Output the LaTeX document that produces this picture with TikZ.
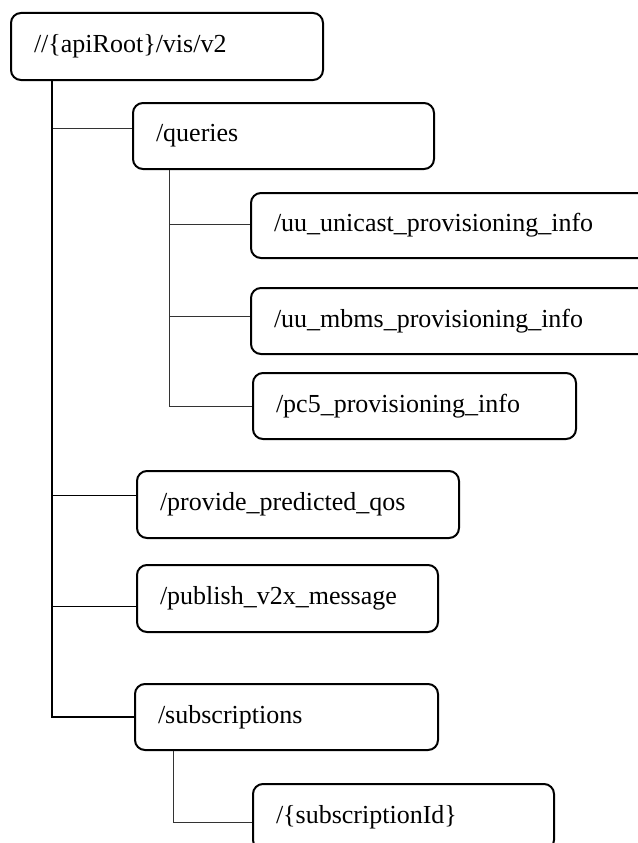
\documentclass[tikz,border=0pt]{standalone}
\usepackage{fontspec}
\setmainfont{Liberation Serif}
\usepackage{tikz}
\tikzstyle{box} = [rectangle, rounded corners=10pt, draw=black, line width=2pt, anchor=north west, inner xsep=23pt, inner ysep=0pt, align=left, minimum height=66pt, font=\fontsize{26}{30}\selectfont]
\tikzstyle{line} = [draw=black!80, line width=0.9pt]
\tikzstyle{trunk} = [draw=black, line width=1.3pt]

\begin{document}
\begin{tikzpicture}[x=1pt, y=-1pt]
			\useasboundingbox (0,0) rectangle (637,843);
			\node (root) [box, text width=266pt, minimum height=67pt] at (10,12) {//\{apiRoot\}/vis/v2};
			\node (queries) [box, text width=255pt] at (132,102) {/queries};
			\node (unicast) [box, text width=364pt, minimum height=65pt] at (250,192) {/uu\_unicast\_provisioning\_info};
			\node (mbms) [box, text width=364pt] at (250,287) {/uu\_mbms\_provisioning\_info};
			\node (pcfive) [box, text width=277pt] at (252,372) {/pc5\_provisioning\_info};
			\node (qos) [box, text width=276pt, minimum height=67pt] at (136,470) {/provide\_predicted\_qos};
			\node (publish) [box, text width=255pt, minimum height=67pt] at (136,564) {/publish\_v2x\_message};
			\node (subs) [box, text width=257pt] at (134,683) {/subscriptions};
			\node (subsid) [box, text width=255pt] at (252,783) {/\{subscriptionId\}};
			\coordinate (t) at ([xshift=42pt]root.south west);
			\coordinate (q) at ([xshift=37pt]queries.south west);
			\coordinate (s) at ([xshift=39pt]subs.south west);
			\draw [trunk] (t) |- (subs.west);
			\draw [line] ([yshift=8pt]queries.west) -| (t);
			\draw [trunk] ([yshift=9pt]qos.west) -| (t);
			\draw [trunk] ([yshift=-8pt]publish.west) -| (t);
			\draw [line] (q) |- (pcfive.west);
			\draw [line] ([yshift=1pt]unicast.west) -| (q);
			\draw [line] ([yshift=5pt]mbms.west) -| (q);
			\draw [line] (s) |- ([yshift=-5pt]subsid.west);
		\end{tikzpicture}
\end{document}
